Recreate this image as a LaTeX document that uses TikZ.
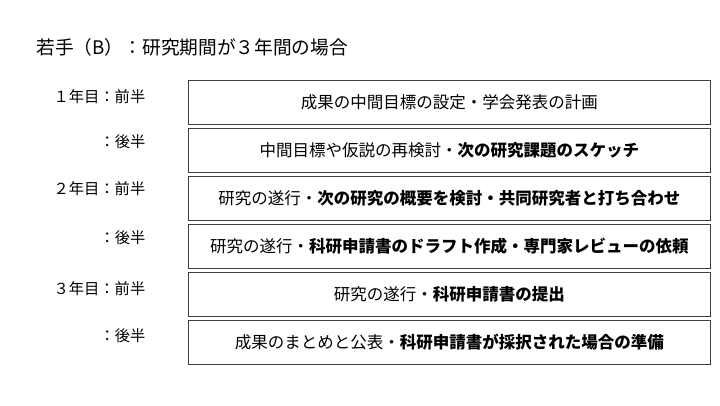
\documentclass[tikz,border=0pt]{standalone}
\usepackage{fontspec}
\setmainfont{Noto Sans CJK JP}
\begin{document}
\begin{tikzpicture}[x=1pt,y=-1pt,
  bx/.style={draw=black!75,line width=0.8pt,minimum width=522pt,minimum height=44pt,anchor=north west,inner sep=0pt,font=\fontsize{16.5}{19}\selectfont},
  lb/.style={anchor=west,font=\fontsize{15.3}{18}\selectfont}]
\useasboundingbox (0,0) rectangle (720,405);
\node[anchor=west,font=\fontsize{18.7}{21}\selectfont] (t) at (33,47) {若手（B）：研究期間が３年間の場合};
\node[bx] (b1) at (188,80) {成果の中間目標の設定・学会発表の計画};
\node[bx] (b2) at (188,128) {中間目標や仮説の再検討・\textbf{次の研究課題のスケッチ}};
\node[bx] (b3) at (188,176) {研究の遂行・\textbf{次の研究の概要を検討・共同研究者と打ち合わせ}};
\node[bx] (b4) at (188,224) {研究の遂行・\textbf{科研申請書のドラフト作成・専門家レビューの依頼}};
\node[bx] (b5) at (188,272) {研究の遂行・\textbf{科研申請書の提出}};
\node[bx] (b6) at (188,320) {成果のまとめと公表・\textbf{科研申請書が採択された場合の準備}};
\node[lb] (l1) at (50,97) {１年目：前半};
\node[lb] (l2) at (96,142) {：後半};
\node[lb] (l3) at (50,189) {２年目：前半};
\node[lb] (l4) at (96,238) {：後半};
\node[lb] (l5) at (50,289) {３年目：前半};
\node[lb] (l6) at (96,336) {：後半};
\end{tikzpicture}
\end{document}
